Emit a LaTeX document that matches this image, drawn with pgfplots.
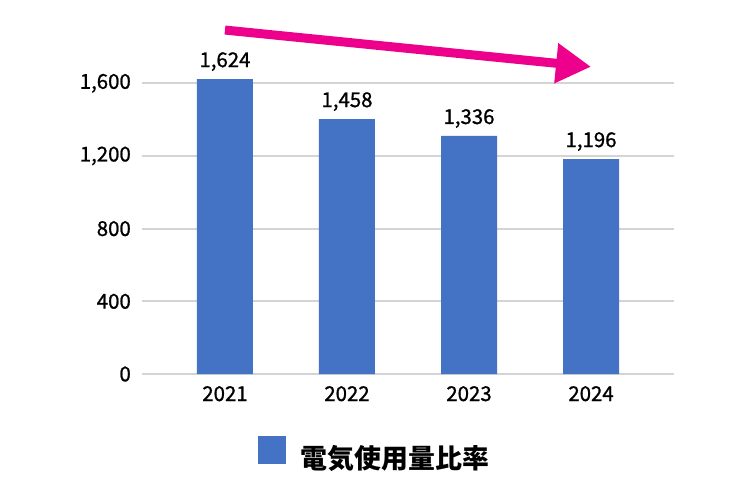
\documentclass[border=0pt]{standalone}
\usepackage{fontspec}
\setmainfont{Noto Sans CJK JP}
\newfontfamily\numfont[FakeBold=1.0]{Noto Sans CJK JP}
\usepackage{pgfplots}
\usepackage{pgfplotstable}
\pgfplotsset{compat=1.18}
\usetikzlibrary{arrows.meta}
\definecolor{barblue}{RGB}{68,114,196}
\definecolor{arrowpink}{RGB}{236,0,140}
\definecolor{gridgray}{RGB}{212,212,212}
\pgfplotstableread{
x h lab
0 1623 1,624
1 1403 1,458
2 1310 1,336
3 1183 1,196
}\datatable
\begin{document}
\begin{tikzpicture}
\useasboundingbox (0,0) rectangle (749bp,492bp);
\begin{axis}[
 at={(142bp,118bp)}, anchor=south west,
 scale only axis, width=532bp, height=290.7bp,
 xmin=-0.68, xmax=3.68, ymin=0, ymax=1600,
 axis line style={draw=none},
 major tick length=0pt,
 ymajorgrids, grid style={gridgray, line width=1.8bp},
 ytick={0,400,800,1200,1600},
 xtick={0,1,2,3}, xticklabels={2021,2022,2023,2024},
 /pgf/number format/assume math mode=true,
 /pgf/number format/1000 sep={,},
 ticklabel style={font=\numfont\fontsize{20.5}{22}\selectfont},
 yticklabel style={anchor=east, inner sep=0pt, xshift=-11bp},
 xticklabel style={anchor=base, inner sep=0pt, yshift=-27bp},
 clip=false,
 legend style={at={(0.435,-0.272)}, anchor=center, draw=none, fill=none, inner sep=0pt,
   nodes={inner sep=0pt}, font=\bfseries\fontsize{27}{29}\selectfont,
   /tikz/every odd column/.append style={column sep=15bp}},
 legend cell align=left,
 legend image code/.code={\fill[barblue] (0bp,-7bp) rectangle (28bp,21bp);},
]
\addplot[ybar, bar width=56bp, fill=barblue, draw=none, point meta=explicit symbolic, nodes near coords,
  every node near coord/.append style={anchor=base, yshift=12bp, inner sep=0pt, font=\numfont\fontsize{20.5}{22}\selectfont, text=black}]
  table[x=x, y=h, meta=lab] {\datatable};
\addlegendentry{電気使用量比率}
\draw[arrowpink, line width=9bp, -{Triangle[length=35bp,width=38bp]}] (axis cs:0,1893) -- (axis cs:3.0,1691);
\end{axis}
\end{tikzpicture}
\end{document}
